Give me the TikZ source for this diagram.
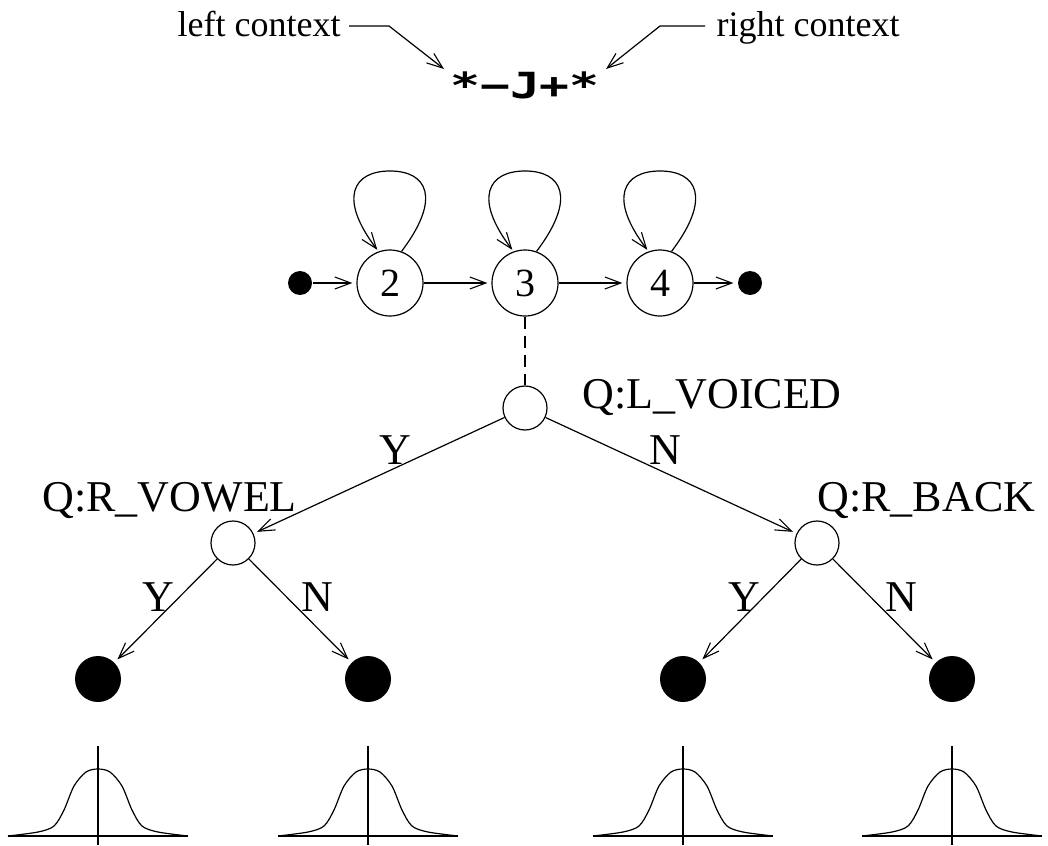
\documentclass[tikz,border=0pt]{standalone}
\usepackage{fontspec}
\setmainfont{Liberation Serif}
\newfontfamily\jfont[FakeStretch=1.38]{DejaVu Sans Mono}
\usetikzlibrary{arrows.meta,calc}
\begin{document}
\begin{tikzpicture}[x=1pt,y=-1pt,line width=1.2pt,
  arr/.style={-{Straight Barb[length=16pt,width=12pt,line width=1.1pt]},shorten >=4pt},
  state/.style={circle,draw,minimum size=66pt,inner sep=0pt,font=\fontsize{40}{40}\selectfont},
  qnode/.style={circle,draw,minimum size=44pt,inner sep=0pt},
  leaf/.style={circle,fill,minimum size=46pt,inner sep=0pt},
  dot/.style={circle,fill,minimum size=24pt,inner sep=0pt},
  lbl/.style={font=\fontsize{44}{44}\selectfont,inner sep=0pt},
  qlbl/.style={font=\fontsize{44}{44}\selectfont,inner sep=0pt,anchor=base west},
  ctx/.style={font=\fontsize{36}{36}\selectfont,inner sep=0pt,anchor=base west},
  bell/.pic={
    \draw (-90,0) -- (90,0);
    \draw (0,-90) -- (0,9);
    \draw plot[smooth] coordinates {(-90,0) (-60,-4) (-44,-10) (-34,-26) (-24,-50) (-12,-64) (0,-67) (12,-64) (24,-50) (34,-26) (44,-10) (60,-4) (90,0)};
  }]
\useasboundingbox (0,0) rectangle (1048,845);

% context labels
\node[ctx] (lctx) at (177,37) {left context};
\node[ctx] (rctx) at (716,37) {right context};
\node[inner sep=0pt,anchor=base,font={\jfont\bfseries\fontsize{36}{36}\selectfont}] (tri) at (525,99) {*−J+*};
\coordinate (lk) at (389,26);
\coordinate (lt) at (444,69);
\coordinate (rk) at (660,26);
\coordinate (rt) at (606,69);
\draw[arr,shorten >=0pt,shorten <=8pt] (lctx.east |- lk) -- (lk) -- (lt);
\draw[arr,shorten >=0pt,shorten <=11pt] (rctx.west |- rk) -- (rk) -- (rt);

% HMM
\node[dot] (din) at (300,283) {};
\node[state] (s2) at (390,283) {2};
\node[state] (s3) at (525,283) {3};
\node[state] (s4) at (660,283) {4};
\node[dot] (dout) at (750,283) {};
\draw[arr] (din) -- (s2);
\draw[arr] (s2) -- (s3);
\draw[arr] (s3) -- (s4);
\draw[arr] (s4) -- (dout);
\foreach \s in {s2,s3,s4}{
  \draw[arr,shorten >=2pt] (\s.70) .. controls ($(\s)+(52,-85)$) and ($(\s)+(37,-112)$) .. ($(\s)+(0,-112)$)
     .. controls ($(\s)+(-37,-112)$) and ($(\s)+(-52,-85)$) .. (\s.110);
}

% tree
\node[qnode] (root) at (525,408) {};
\node[qnode] (ql) at (233,543) {};
\node[qnode] (qr) at (817,543) {};
\draw[dash pattern=on 12pt off 7pt] (s3) -- (root);
\node[qlbl] (tl) at (582,408) {Q:L\_VOICED};
\node[qlbl] (tql) at (42,511) {Q:R\_VOWEL};
\node[qlbl] (tqr) at (817,511) {Q:R\_BACK};

\node[leaf] (l1) at (98,679) {};
\node[leaf] (l2) at (368,679) {};
\node[leaf] (l3) at (683,679) {};
\node[leaf] (l4) at (952,679) {};

\draw[arr] (root) -- (ql);
\draw[arr] (root) -- (qr);
\draw[arr] (ql) -- (l1);
\draw[arr] (ql) -- (l2);
\draw[arr] (qr) -- (l3);
\draw[arr] (qr) -- (l4);

\node[lbl] (y0) at (395,450) {Y};
\node[lbl] (n0) at (665,450) {N};
\node[lbl] (y1) at (158,597) {Y};
\node[lbl] (n1) at (317,597) {N};
\node[lbl] (y2) at (744,597) {Y};
\node[lbl] (n2) at (901,597) {N};

% gaussians
\pic at (98,836) {bell};
\pic at (368,836) {bell};
\pic at (683,836) {bell};
\pic at (952,836) {bell};
\end{tikzpicture}
\end{document}
